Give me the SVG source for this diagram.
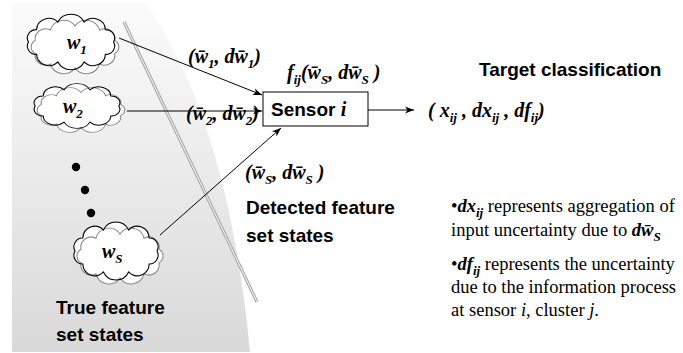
<svg xmlns="http://www.w3.org/2000/svg" xmlns:xlink="http://www.w3.org/1999/xlink" width="683" height="353" viewBox="0 0 683 353">
<style>
.m{font-family:"Liberation Serif","Times New Roman",serif;font-weight:bold;font-style:italic;font-size:20px;fill:#000}
.s{font-size:13px}
.h{font-family:"Liberation Sans",Arial,sans-serif;font-weight:bold;font-size:19px;fill:#000}
.t{font-family:"Liberation Serif","Times New Roman",serif;font-size:18.5px;fill:#000}
.t .m{font-size:18.5px}
.t .s{font-size:13px}
.cw{fill:#fff;stroke:none}
.cg{fill:none;stroke:#8a8a8a;stroke-width:1;vector-effect:non-scaling-stroke}
.cb{fill:none;stroke:#000;stroke-width:1;vector-effect:non-scaling-stroke}
.ln{stroke:#000;stroke-width:1;fill:none}
</style>
<defs>
<linearGradient id="bg" x1="0" y1="0" x2="0" y2="1">
<stop offset="0" stop-color="#fbfbfb"/>
<stop offset="1" stop-color="#d9d9d9"/>
</linearGradient>
<path id="c1" d="M38,0 A8,8 0 0 1 30.7,11.8 A11,11 0 0 1 11.7,19 A13,13 0 0 1 -11.7,19 A11,11 0 0 1 -30.7,11.8 A8,8 0 0 1 -38,0 A8,8 0 0 1 -30.7,-11.8 A11,11 0 0 1 -11.7,-19 A13,13 0 0 1 11.7,-19 A11,11 0 0 1 30.7,-11.8 A8,8 0 0 1 38,0 Z"/>
<path id="c2" d="M36.1,6.2 A9.5,9.5 0 0 1 22.3,16.2 A12.5,12.5 0 0 1 0,20 A12.5,12.5 0 0 1 -22.3,16.2 A9.5,9.5 0 0 1 -36.1,6.2 A7,7 0 0 1 -36.1,-6.2 A9.5,9.5 0 0 1 -22.3,-16.2 A12.5,12.5 0 0 1 0,-20 A12.5,12.5 0 0 1 22.3,-16.2 A9.5,9.5 0 0 1 36.1,-6.2 A7,7 0 0 1 36.1,6.2 Z"/>
<marker id="ah" markerUnits="userSpaceOnUse" markerWidth="10" markerHeight="8" refX="9" refY="4" orient="auto">
<path d="M0,0.5 L9,4 L0,7.5 L2.5,4 Z" fill="#000"/>
</marker>
</defs>

<g id="background">
<path d="M12,3 L145,3 Q228,120 250,352 L12,352 Z" fill="url(#bg)"/>
<line x1="124" y1="22" x2="257" y2="302" stroke="#9a9a9a" stroke-width="3"/>
<line x1="124" y1="22" x2="257" y2="302" stroke="#f2f2f2" stroke-width="1.2"/>
</g>

<g id="cloud-w1">
<use xlink:href="#c1" class="cw" transform="translate(71,42) scale(1.12,1.05)"/>
<use xlink:href="#c2" class="cw" transform="translate(75,47) scale(1.1,1.05)"/>
<use xlink:href="#c2" class="cg" transform="translate(75,47) scale(1.1,1.05)"/>
<use xlink:href="#c1" class="cb" transform="translate(71,42) scale(1.12,1.05)"/>
<text class="m" x="67" y="49">w<tspan class="s" dy="5">1</tspan></text>
</g>

<g id="cloud-w2">
<use xlink:href="#c1" class="cw" transform="translate(77,106) scale(1.1,0.85)"/>
<use xlink:href="#c2" class="cw" transform="translate(81,110) scale(1.1,0.88)"/>
<use xlink:href="#c2" class="cg" transform="translate(81,110) scale(1.1,0.88)"/>
<use xlink:href="#c1" class="cb" transform="translate(77,106) scale(1.1,0.85)"/>
<text class="m" x="63" y="113">w<tspan class="s" dy="5">2</tspan></text>
</g>

<g id="dots">
<circle cx="76" cy="167" r="4.2" fill="#000"/>
<circle cx="85" cy="190" r="4.2" fill="#000"/>
<circle cx="91" cy="213" r="4.2" fill="#000"/>
</g>

<g id="cloud-wS">
<use xlink:href="#c2" class="cw" transform="translate(120,256) scale(1.08,1.1)"/>
<use xlink:href="#c1" class="cw" transform="translate(116,251) scale(1.08,1.1)"/>
<use xlink:href="#c2" class="cg" transform="translate(120,256) scale(1.08,1.1)"/>
<use xlink:href="#c1" class="cb" transform="translate(116,251) scale(1.08,1.1)"/>
<text class="m" x="102" y="258">w<tspan class="s" dy="5">S</tspan></text>
</g>

<g id="sensor">
<rect x="263" y="92" width="105" height="34" fill="#fff" stroke="#000" stroke-width="1"/>
<text class="h" x="271" y="116">Sensor <tspan class="m">i</tspan></text>
</g>

<g id="connectors">
<line class="ln" x1="119" y1="38" x2="262" y2="95" marker-end="url(#ah)"/>
<line class="ln" x1="127" y1="111" x2="262" y2="111" marker-end="url(#ah)"/>
<line class="ln" x1="160" y1="235" x2="281" y2="128" marker-end="url(#ah)"/>
<line class="ln" x1="368" y1="110" x2="414" y2="110" marker-end="url(#ah)"/>
</g>

<g id="labels">
<text class="m" x="188" y="63">(w&#x0304;<tspan class="s" dy="5">1</tspan><tspan dy="-5">, d</tspan>w&#x0304;<tspan class="s" dy="5">1</tspan><tspan dy="-5">)</tspan></text>
<text class="m" x="186" y="120">(w&#x0304;<tspan class="s" dy="5">2</tspan><tspan dy="-5">, d</tspan>w&#x0304;<tspan class="s" dy="5">2</tspan><tspan dy="-5">)</tspan></text>
<text class="m" x="287" y="79">f<tspan class="s" dy="5">ij</tspan><tspan dy="-5">(</tspan>w&#x0304;<tspan class="s" dy="5">S</tspan><tspan dy="-5">, d</tspan>w&#x0304;<tspan class="s" dy="5">S</tspan><tspan dy="-5"> )</tspan></text>
<text class="m" x="245" y="179">(w&#x0304;<tspan class="s" dy="5">S</tspan><tspan dy="-5">, d</tspan>w&#x0304;<tspan class="s" dy="5">S</tspan><tspan dy="-5"> )</tspan></text>
<text class="m" x="428" y="117">( x<tspan class="s" dy="5">ij</tspan><tspan dy="-5"> , dx</tspan><tspan class="s" dy="5">ij</tspan><tspan dy="-5"> , df</tspan><tspan class="s" dy="5">ij</tspan><tspan dy="-5">)</tspan></text>
<text class="h" x="479" y="76">Target classification</text>
<text class="h" x="246" y="214">Detected feature</text>
<text class="h" x="246" y="242">set states</text>
<text class="h" x="56" y="314">True feature</text>
<text class="h" x="56" y="341">set states</text>
</g>

<g id="notes">
<text class="t" x="451" y="212">•<tspan class="m">dx</tspan><tspan class="m s" dy="5">ij</tspan><tspan dy="-5"> represents aggregation of</tspan></text>
<text class="t" x="451" y="236">input uncertainty due to <tspan class="m">dw&#x0304;</tspan><tspan class="m s" dy="5">S</tspan></text>
<text class="t" x="451" y="270">•<tspan class="m">df</tspan><tspan class="m s" dy="5">ij</tspan><tspan dy="-5"> represents the uncertainty</tspan></text>
<text class="t" x="451" y="293">due to the information process</text>
<text class="t" x="451" y="316">at sensor <tspan font-style="italic">i</tspan>, cluster <tspan font-style="italic">j</tspan>.</text>
</g>
</svg>
